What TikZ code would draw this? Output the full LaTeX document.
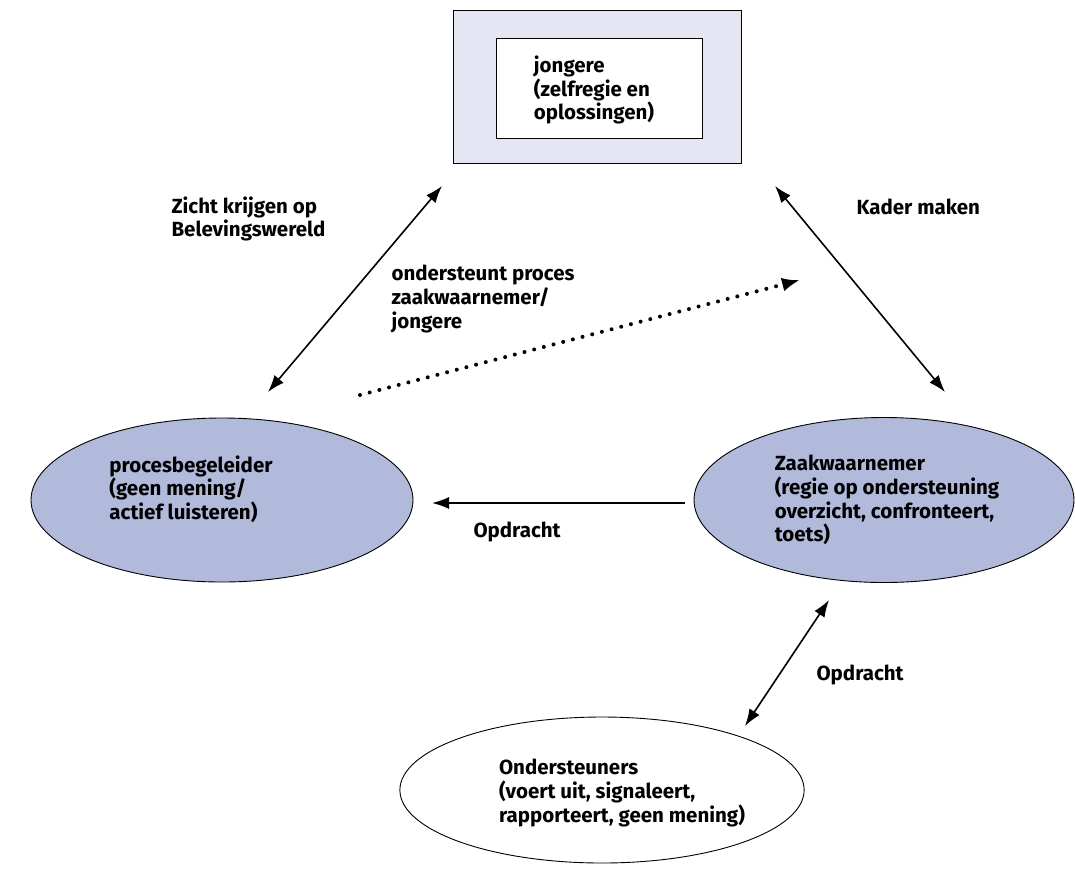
\documentclass[tikz,border=0pt]{standalone}
\usepackage{fontspec}
\setmainfont{Fira Sans}
\usetikzlibrary{arrows.meta,shapes.geometric}
\definecolor{boxpaars}{HTML}{E4E6F3}
\definecolor{ovaalpaars}{HTML}{B1BADB}
\tikzset{
  tekst/.style={font=\fontsize{20.5}{23.8}\selectfont\bfseries, align=left},
  ovaal/.style={ellipse, draw, line width=0.9pt, inner sep=0pt, tekst},
  pijl/.style={line width=1.6pt, -{Latex[length=17pt,width=12pt]}},
  dubbelpijl/.style={line width=1.6pt, {Latex[length=17pt,width=12pt]}-{Latex[length=17pt,width=12pt]}},
  stippel/.style={line width=4pt, line cap=round, dash pattern=on 0pt off 10pt,
    -{Latex[length=18pt,width=14pt]}},
}
\begin{document}
\begin{tikzpicture}[x=1pt,y=-1pt]
\useasboundingbox[fill=white] (0,0) rectangle (1075,868);

% jongere
\draw[fill=boxpaars, line width=0.9pt] (453,10) rectangle (741,163);
\draw[fill=white, line width=0.9pt] (496,38) rectangle (702,138);
\node[tekst] (jongere) at (594,90) {jongere\\(zelfregie en\\oplossingen)};

% de drie ovalen
\node[ovaal, fill=ovaalpaars, minimum width=382pt, minimum height=164pt] (begeleider) at (222,500)
  {procesbegeleider\hspace*{62pt}\\(geen mening/\\actief luisteren)\rule[-25pt]{0pt}{0pt}};
\node[ovaal, fill=ovaalpaars, minimum width=380pt, minimum height=165pt] (zaak) at (884,500)
  {\hspace*{6pt}Zaakwaarnemer\\\hspace*{6pt}(regie op ondersteuning\\\hspace*{6pt}overzicht, confronteert,\\\hspace*{6pt}toets)};
\node[ovaal, fill=white, minimum width=402pt, minimum height=146pt] (ondersteuners) at (602,790)
  {\hspace*{40pt}Ondersteuners\rule{0pt}{21pt}\\\hspace*{40pt}(voert uit, signaleert,\\\hspace*{40pt}rapporteert, geen mening)};

% eindpunten van de pijlen
\coordinate (jl) at (442,186);
\coordinate (bl) at (268,392);
\coordinate (jr) at (775,186);
\coordinate (zr) at (945,392);
\coordinate (st) at (360,395);
\coordinate (sk) at (800,280);
\coordinate (zo) at (685,503);
\coordinate (bo) at (432,503);
\coordinate (zb) at (829,600);
\coordinate (ob) at (745,726);

\draw[dubbelpijl] (bl) -- (jl);
\draw[dubbelpijl] (jr) -- (zr);
\draw[stippel] (st) -- (sk);
\draw[pijl] (zo) -- (bo);
\draw[dubbelpijl] (zb) -- (ob);

% labels
\node[tekst, anchor=west] (zicht) at (168,219) {Zicht krijgen op\\Belevingswereld};
\node[tekst, anchor=west] (kader) at (853,207) {Kader maken};
\node[tekst, anchor=west] (proces) at (388,299) {ondersteunt proces\\zaakwaarnemer/\\jongere};
\node[tekst, anchor=west] (opdracht1) at (470,532) {Opdracht};
\node[tekst, anchor=west] (opdracht2) at (813,675) {Opdracht};
\end{tikzpicture}
\end{document}
